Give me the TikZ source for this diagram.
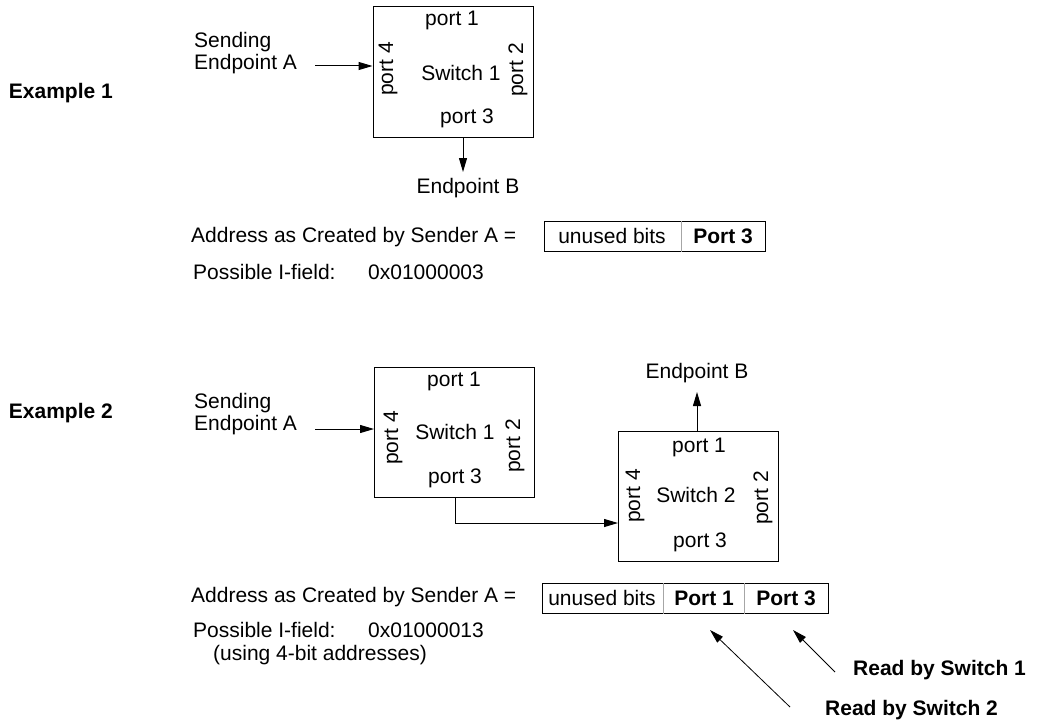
\documentclass[tikz,border=0pt]{standalone}
\usepackage{fontspec}
\setmainfont{Liberation Sans}
\usetikzlibrary{arrows.meta}

\begin{document}
\begin{tikzpicture}[x=1pt,y=-1pt,
  every node/.style={font=\fontsize{21}{22}\selectfont,inner sep=0pt},
  bld/.style={font=\fontsize{21}{22}\selectfont\bfseries},
  vport/.style={rotate=90},
  switchbox/.style={draw,line width=1pt,minimum width=160pt,minimum height=130pt},
  addrbox/.style={draw,line width=1pt,minimum height=30pt},
  divider/.style={draw=gray!70,line width=1pt},
  arr/.style={-{Triangle[length=14pt,width=8pt]},line width=1pt}]
  \useasboundingbox (0,0) rectangle (1038,725);

  % Example 1
  \node[bld,anchor=east] (ex1) at (113,93) {Example 1};
  \node[anchor=west,align=left] (snd1) at (194,53) {Sending\\Endpoint A};
  \node[switchbox] (sw1) at (453,72) {};
  \node (sw1p1) at (452,20) {port 1};
  \node (sw1lbl) at (461,73) {Switch 1};
  \node (sw1p3) at (467,118) {port 3};
  \node[vport] (sw1p4) at (388,69) {port 4};
  \node[vport] (sw1p2) at (518,70) {port 2};
  \node (epB1) at (468,188) {Endpoint B};
  \coordinate (a1) at (315,66);
  \coordinate (d1) at (463,172);
  \draw[arr] (a1) -- (a1 -| sw1.west);
  \draw[arr] (d1 |- sw1.south) -- (d1);

  \node[anchor=west] (adr1) at (191,237) {Address as Created by Sender A =};
  \node[addrbox,minimum width=221pt] (ab1) at (654.5,236) {};
  \node (ab1u) at (612,236) {unused bits};
  \node[bld] (ab1p3) at (723,236) {Port 3};
  \draw[divider] (681,0 |- ab1.north) -- (681,0 |- ab1.south);
  \node[anchor=west] (pif1) at (193,272) {Possible I-field:};
  \node[anchor=west] (hex1) at (368,272) {0x01000003};

  % Example 2
  \node[bld,anchor=east] (ex2) at (113,413) {Example 2};
  \node[anchor=west,align=left] (snd2) at (194,414) {Sending\\Endpoint A};
  \node[switchbox] (sw2a) at (454.5,432.5) {};
  \node (sw2ap1) at (454,381) {port 1};
  \node (sw2albl) at (455,432) {Switch 1};
  \node (sw2ap3) at (455,478) {port 3};
  \node[vport] (sw2ap4) at (393,438) {port 4};
  \node[vport] (sw2ap2) at (515,446) {port 2};

  \node[switchbox] (sw2b) at (698.5,496) {};
  \node (sw2bp1) at (699,447) {port 1};
  \node (sw2blbl) at (696,495) {Switch 2};
  \node (sw2bp3) at (700,542) {port 3};
  \node[vport] (sw2bp4) at (635,496) {port 4};
  \node[vport] (sw2bp2) at (763,498) {port 2};
  \node (epB2) at (697,373) {Endpoint B};

  \coordinate (a2) at (315,429);
  \coordinate (k2) at (455,523);
  \coordinate (u2) at (697,392);
  \draw[arr] (a2) -- (a2 -| sw2a.west);
  \draw[arr] (k2 |- sw2a.south) -- (k2) -- (k2 -| sw2b.west);
  \draw[arr] (u2 |- sw2b.north) -- (u2);

  \node[anchor=west] (adr2) at (191,597) {Address as Created by Sender A =};
  \node[addrbox,minimum width=286pt] (ab2) at (685,598.5) {};
  \node (ab2u) at (602,598) {unused bits};
  \node[bld] (ab2p1) at (704,598) {Port 1};
  \node[bld] (ab2p3) at (786,598) {Port 3};
  \draw[divider] (663,0 |- ab2.north) -- (663,0 |- ab2.south);
  \draw[divider] (744,0 |- ab2.north) -- (744,0 |- ab2.south);
  \node[anchor=west] (pif2) at (193,630) {Possible I-field:};
  \node[anchor=west] (hex2) at (368,630) {0x01000013};
  \node[anchor=west] (note2) at (213,655) {(using 4-bit addresses)};

  \node[bld,anchor=west] (rd1) at (853,670) {Read by Switch 1};
  \node[bld,anchor=west] (rd2) at (825,710) {Read by Switch 2};
  \coordinate (r1s) at (835,672);
  \coordinate (r1e) at (793,630);
  \coordinate (r2s) at (790,707);
  \coordinate (r2e) at (710,630);
  \draw[arr,line width=0.8pt] (r1s) -- (r1e);
  \draw[arr,line width=0.8pt] (r2s) -- (r2e);
\end{tikzpicture}
\end{document}
